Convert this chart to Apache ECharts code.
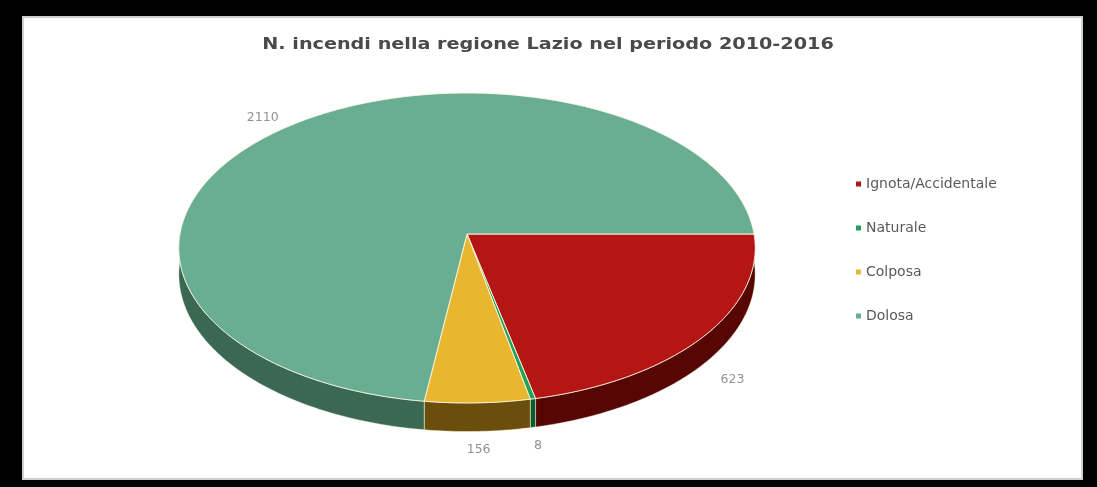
<!DOCTYPE html>
<html><head><meta charset="utf-8">
<script src="https://cdn.jsdelivr.net/npm/echarts@6/dist/echarts.min.js"></script>
<style>
html,body{margin:0;padding:0;background:#000;overflow:hidden;}
#panel{position:absolute;left:22px;top:16px;width:1061px;height:464px;background:#fff;border:2px solid #cfcfcf;box-sizing:border-box;}
#c{position:absolute;left:0;top:0;width:1097px;height:487px;}
</style>
</head><body><div id="panel"></div><div id="c"></div>
<script>
const titleText = 'N. incendi nella regione Lazio nel periodo 2010-2016';
const categories = ['Ignota/Accidentale', 'Naturale', 'Colposa', 'Dolosa'];
const values = [623, 8, 156, 2110];
const topColors = ['#b41616', '#22a05c', '#e9b72f', '#69ae92'];
const wallColors = ['#570606', '#0e5a30', '#6b4e0c', '#3b6853'];

const total = values.reduce((a, b) => a + b, 0);
const starts = [];
let acc = 0;
values.forEach(v => { starts.push(acc / total * 360); acc += v; });
const ends = values.map((v, i) => starts[i] + v / total * 360);

// geometry of the tilted (perspective) pie
const G = { cx: 467, cy: 234, A: 287, B: 153.7, p: 0.0903, T: 26 };
function proj(deg, r) {
  const t = deg * Math.PI / 180;
  const u = Math.cos(t) * r, v = Math.sin(t) * r;
  const d = 1 - G.p * v;
  return [G.cx + G.A * u / d, G.cy + G.B * v / d, d];
}
function arc(a0, a1) {
  const pts = [];
  const n = Math.max(2, Math.ceil((a1 - a0) / 0.5));
  for (let k = 0; k <= n; k++) pts.push(proj(a0 + (a1 - a0) * k / n, 1));
  return pts;
}

function makeRender(i) {
  return function (params, api) {
    const val = api.value(0), a0 = api.value(1), a1 = api.value(2);
    const children = [];
    // outer wall (front half only)
    const lo = Math.max(a0, 0), hi = Math.min(a1, 180);
    if (hi > lo) {
      const topArc = arc(lo, hi);
      const pts = topArc.map(p => [p[0], p[1]]);
      for (let k = topArc.length - 1; k >= 0; k--) {
        const p = topArc[k];
        pts.push([p[0], p[1] + G.T / p[2]]);
      }
      children.push({
        type: 'polygon', z2: 1,
        shape: { points: pts },
        style: { fill: wallColors[i], stroke: 'rgba(255,250,225,0.6)', lineWidth: 0.8 }
      });
    }
    // top face
    const face = [[G.cx, G.cy]].concat(arc(a0, a1).map(p => [p[0], p[1]]));
    children.push({
      type: 'polygon', z2: 10,
      shape: { points: face },
      style: { fill: topColors[i], stroke: 'rgba(255,250,225,0.85)', lineWidth: 1 }
    });
    // value label
    const mid = (a0 + a1) / 2;
    const e = proj(mid, 1);
    const c = Math.cos(mid * Math.PI / 180), s = Math.sin(mid * Math.PI / 180);
    const txt = String(val);
    const lx = e[0] + c * (18 + 6 * txt.length);
    const ly = e[1] + (s > 0 ? G.T / e[2] + 18 * s + 8 * c * c : 10 * s);
    children.push({
      type: 'text', z2: 20,
      style: {
        text: txt, x: lx, y: ly, align: 'center', verticalAlign: 'middle',
        fill: '#929292', fontSize: 12.5, fontFamily: 'DejaVu Sans'
      }
    });
    return { type: 'group', children: children };
  };
}

const series = categories.map((name, i) => ({
  type: 'custom',
  name: name,
  coordinateSystem: 'none',
  itemStyle: { color: topColors[i] },
  data: [[values[i], starts[i], ends[i]]],
  renderItem: makeRender(i),
  animation: false
}));

const chart = echarts.init(document.getElementById('c'), null, { renderer: 'canvas' });
chart.setOption({
  backgroundColor: 'transparent',
  animation: false,
  graphic: [{
    type: 'text', x: 548, y: 45, scaleX: 1.2, originX: 0, originY: 0,
    style: {
      text: titleText, x: 0, y: 0, align: 'center', verticalAlign: 'middle',
      fontFamily: 'DejaVu Sans', fontSize: 16, fontWeight: 'bold', fill: '#4a4a4a'
    }
  }],
  legend: {
    orient: 'vertical', left: 851, top: 172, itemGap: 30,
    icon: 'rect', itemWidth: 5, itemHeight: 5,
    textStyle: { fontFamily: 'DejaVu Sans', fontSize: 14, color: '#595959' },
    data: categories
  },
  series: series
});
</script>
</body></html>
